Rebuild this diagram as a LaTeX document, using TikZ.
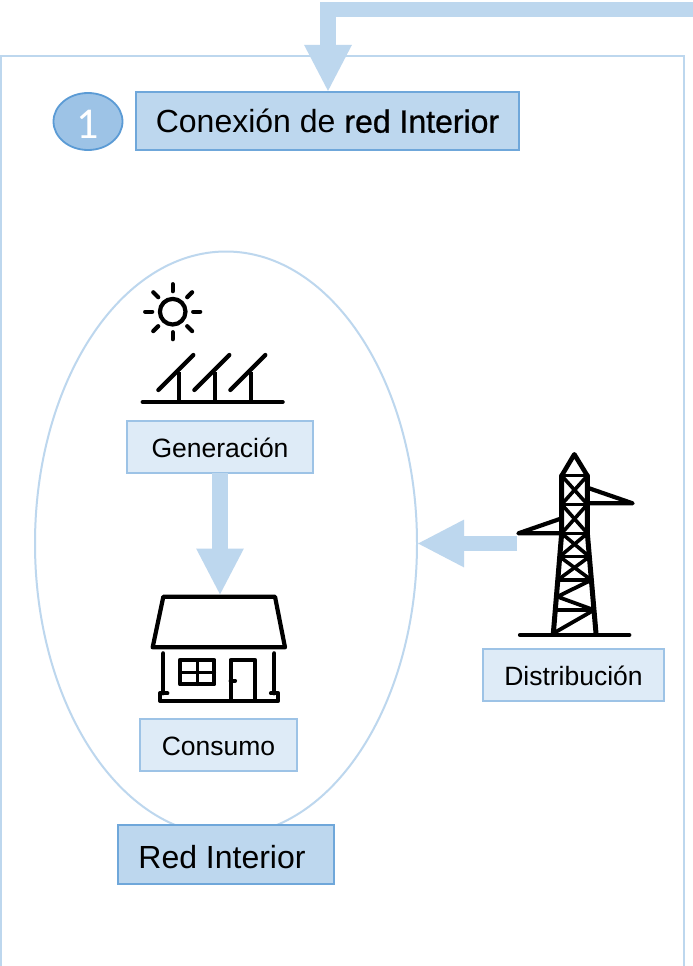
\documentclass[tikz,border=0pt]{standalone}
\usepackage{fontspec}
\setmainfont{Liberation Sans}
\newfontfamily\fakebold[FakeBold=0.8]{Liberation Sans}
\newfontfamily\numfont{Carlito}
\usetikzlibrary{arrows.meta,shapes.geometric}
\definecolor{paleblue}{HTML}{BDD7EE}
\definecolor{lightblue}{HTML}{DEEBF7}
\definecolor{midblue}{HTML}{9DC3E6}
\definecolor{edgeblue}{HTML}{5B9BD5}
\tikzset{
  x=1pt,y=-1pt,
  framelines/.style={draw=paleblue,line width=2pt},
  darkbox/.style={draw=edgeblue!80!paleblue,fill=paleblue,line width=1.3pt,inner sep=0pt,outer sep=0pt,font=\fontsize{32}{36}\selectfont},
  lightbox/.style={draw=midblue,fill=lightblue,line width=1.3pt,inner sep=0pt,outer sep=0pt,text height=21.5pt,text depth=0pt,font=\fontsize{26.5}{30}\selectfont},
  blockarrow/.style={draw=paleblue,line width=15.5pt,line join=miter,-{Triangle[length=47pt,width=44pt]}},
  iconline/.style={draw=black,line width=4.2pt,line cap=round,line join=round},
  zoomed/.style={x=0.33333pt,y=-0.33333pt},
}
\begin{document}
\begin{tikzpicture}
\useasboundingbox (0,0) rectangle (693,966);
\fill[white] (0,0) rectangle (693,966);
% frame
\draw[framelines] (1,966) -- (1,56) -- (684,56) -- (684,966);
% container ellipse
\node[ellipse,draw=paleblue,line width=2pt,minimum width=382pt,minimum height=584pt,inner sep=0pt,outer sep=0pt] (interior) at (226,543.5) {};
% boxes
\node[darkbox,minimum width=383pt,minimum height=58pt] (conexion) at (327.5,121) {Conexión de {\fakebold red Interior}};
\node[ellipse,draw=edgeblue,fill=midblue,line width=1.8pt,minimum width=69pt,minimum height=57pt,inner sep=0pt,text=white,text height=33pt,text depth=0pt,font=\numfont\fontsize{44}{46}\selectfont] (uno) at (88,121.5) {1};
\node[lightbox,minimum width=186pt,minimum height=52pt] (generacion) at (220,447) {Generación};
\node[lightbox,minimum width=157pt,minimum height=52pt] (consumo) at (218.5,745) {Consumo};
\node[lightbox,minimum width=181pt,minimum height=52pt] (distribucion) at (573.5,675) {Distribución};
\node[darkbox,minimum width=216pt,minimum height=59pt,text height=27pt,text depth=0pt] (redint) at (226,854.5) {\mbox{Red Interior\hspace{8pt}}};
% anchor coordinates
\coordinate (feed) at (693,9.5);
\coordinate (feedcorner) at (328,9.5);
\coordinate (roof) at (220,595.5);
\coordinate (tower) at (517,543.5);
% connectors
\draw[blockarrow] (feed) -- (feedcorner) -- (conexion.north -| feedcorner);
\draw[blockarrow] (generacion.south) -- (roof);
\draw[blockarrow] (tower) -- (interior.east);
% sun
\begin{scope}[shift={(172.7,311.7)}]
\draw[iconline] (0,0) circle (12.8pt);
\foreach \a in {0,45,...,315}{
  \draw[iconline] (\a:20.5pt) -- (\a:27.5pt);
}
\end{scope}
% solar panels
\begin{scope}[shift={(120,270)},zoomed]
\draw[iconline] (68,396) -- (488,396);
\foreach \dx/\px in {0/177,108/285,216/393}{
  \draw[iconline] ({115+\dx},360) -- ({220+\dx},255);
  \draw[iconline,line cap=butt] (\px,306) -- (\px,396);
}
\end{scope}
% house
\begin{scope}[shift={(130,585)},zoomed]
\draw[iconline] (100,35) -- (435,35) -- (465,187) -- (68,187) -- cycle;
\draw[iconline] (100,205) -- (100,325);
\draw[iconline] (433,205) -- (433,325);
\draw[iconline] (112,325) -- (90,325) -- (90,347) -- (445,347) -- (445,325) -- (423,325);
\draw[iconline] (150,225) rectangle (253,298);
\draw[iconline,line width=3.4pt] (203,225) -- (203,298);
\draw[iconline,line width=3.4pt] (150,262) -- (253,262);
\draw[iconline] (302,347) -- (302,225) -- (375,225) -- (375,347);
\draw[iconline] (302,287) -- (315,287);
\end{scope}
% pylon
\begin{scope}[shift={(500,445)},zoomed]
\draw[iconline] (60,570) -- (388,570);
\draw[iconline,line width=4.6pt] (185,92) -- (223,28) -- (262,92);
\draw[iconline,line width=5pt] (185,92) -- (185,265) -- (160,565);
\draw[iconline,line width=5pt] (262,92) -- (262,265) -- (288,565);
\foreach \xa/\ya/\xb/\yb in {185/92/262/92,185/178/262/178,185/265/262/265,179/335/268/335,173/405/274/405,166/495/282/495}{
  \draw[iconline,line width=3.6pt] (\xa,\ya) -- (\xb,\yb);
}
\foreach \xa/\ya/\xb/\yb in {185/92/262/178,262/92/185/178,185/178/262/265,262/178/185/265,185/265/268/335,262/265/179/335,179/335/274/405,268/335/173/405}{
  \draw[iconline,line width=3.6pt] (\xa,\ya) -- (\xb,\yb);
}
\draw[iconline,line width=3.8pt] (274,405) -- (172,455) -- (282,495) -- (160,565);
\draw[iconline] (262,128) -- (398,175) -- (262,175);
\draw[iconline] (185,220) -- (55,265) -- (185,265);
\end{scope}
\end{tikzpicture}
\end{document}
